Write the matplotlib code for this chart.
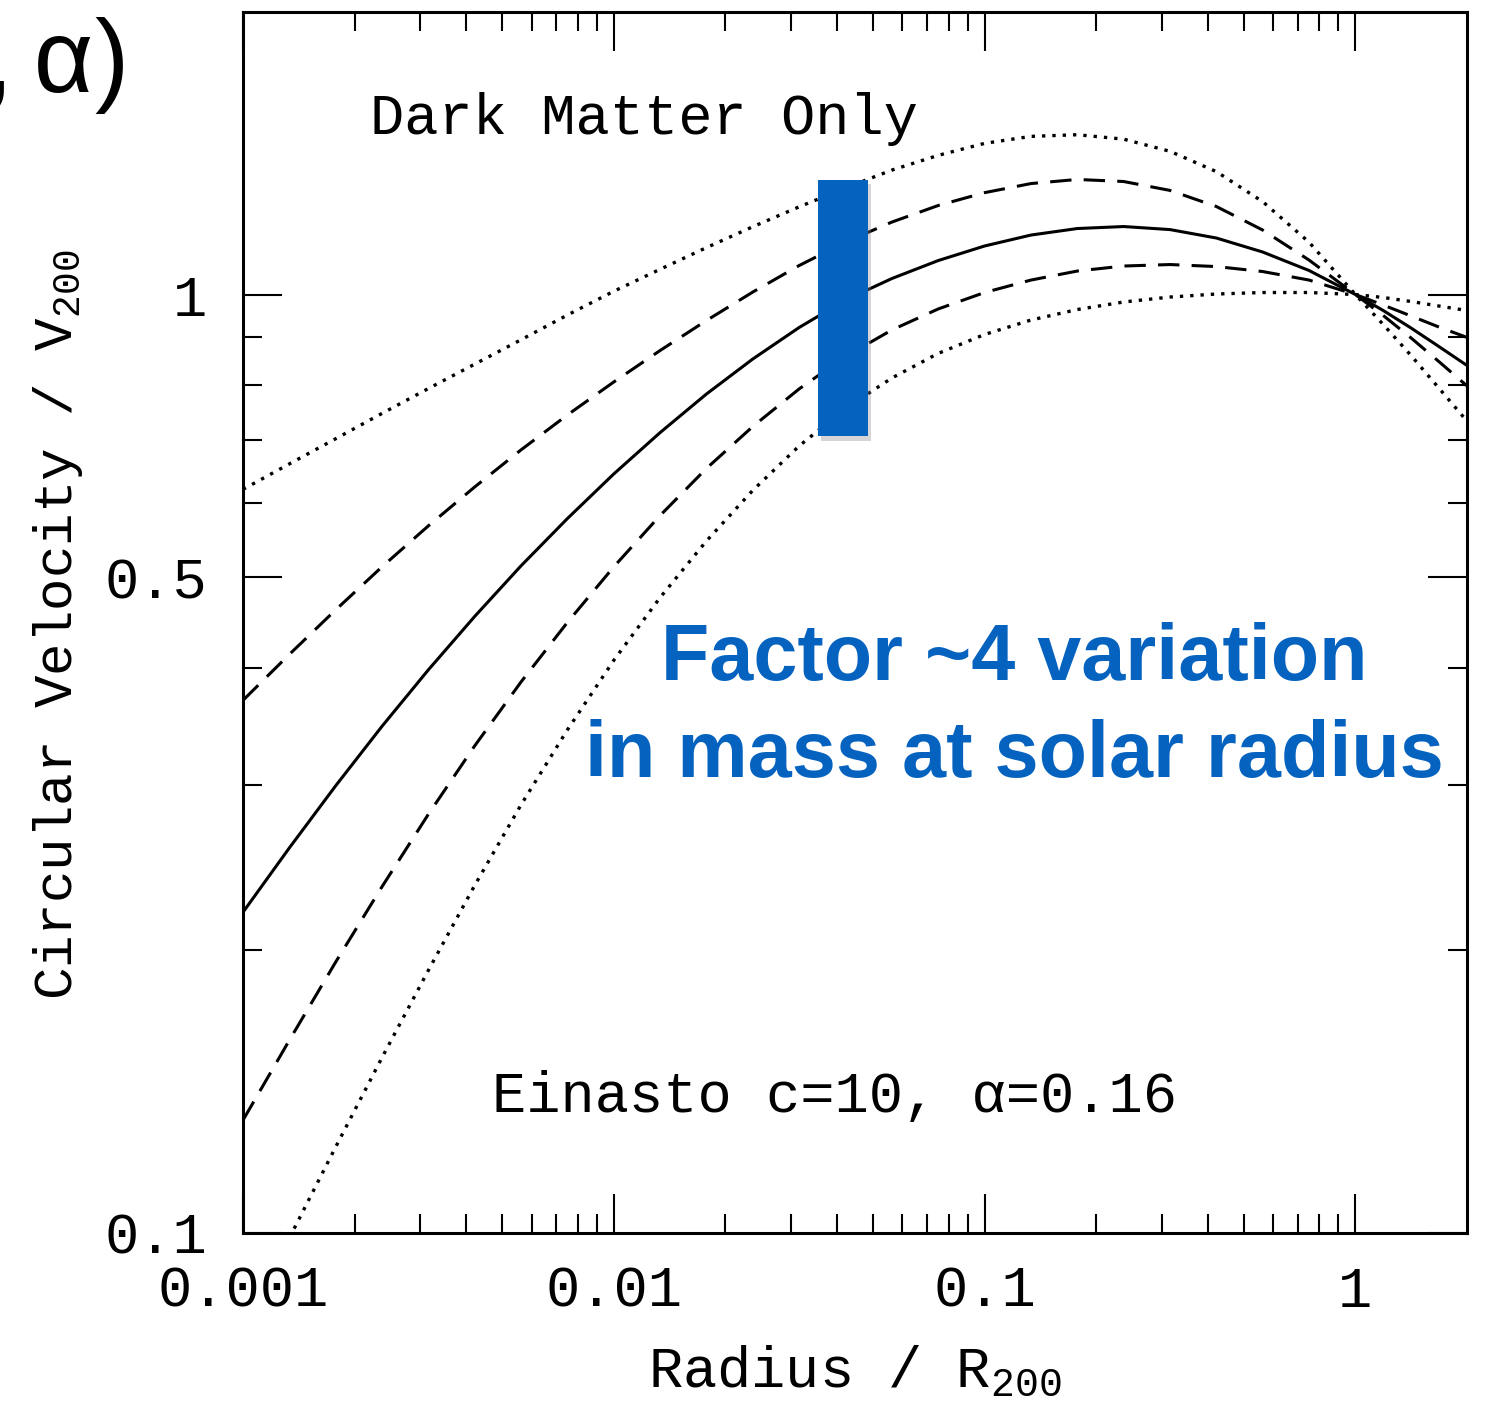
import matplotlib
matplotlib.use("Agg")
import matplotlib.pyplot as plt
import matplotlib.patheffects as pe
from matplotlib.patches import Rectangle
from matplotlib.ticker import FixedLocator, FixedFormatter, NullFormatter

# ---------------- data ----------------
radius = [0.001, 0.001334, 0.001778, 0.002371, 0.003162, 0.004217, 0.005623, 0.007499,
          0.01, 0.01334, 0.01778, 0.02371, 0.03162, 0.04217, 0.05623, 0.07499,
          0.1, 0.1334, 0.1778, 0.2371, 0.3162, 0.4217, 0.5623, 0.7499,
          1.0, 1.189, 1.413, 1.679, 2.0]

v_dot_hi = [0.620, 0.660, 0.702, 0.747, 0.794, 0.843, 0.895, 0.951,
            1.008, 1.064, 1.122, 1.181, 1.240, 1.299, 1.357, 1.407,
            1.449, 1.474, 1.480, 1.464, 1.421, 1.352, 1.256, 1.137,
            1.000, 0.929, 0.861, 0.795, 0.733]
v_dash_hi = [0.3695, 0.4136, 0.4613, 0.5127, 0.5669, 0.6237, 0.6831, 0.7442,
             0.8069, 0.8718, 0.9382, 1.0061, 1.0737, 1.1374, 1.1945, 1.2441,
             1.2839, 1.3129, 1.3262, 1.3195, 1.2910, 1.2410, 1.1714, 1.0882,
             1.000, 0.9498, 0.8989, 0.8484, 0.7991]
v_solid = [0.2197, 0.2573, 0.2996, 0.3467, 0.3982, 0.4540, 0.5140, 0.5772,
           0.6439, 0.7128, 0.7834, 0.8537, 0.9223, 0.9866, 1.0400, 1.0869,
           1.1264, 1.1571, 1.1757, 1.1815, 1.1727, 1.1487, 1.1099, 1.0607,
           1.000, 0.9615, 0.9211, 0.8803, 0.8402]
v_dash_lo = [0.1319, 0.1605, 0.1944, 0.2339, 0.2794, 0.3305, 0.3866, 0.4474,
             0.5127, 0.5816, 0.6527, 0.7234, 0.7933, 0.8590, 0.9167, 0.9652,
             1.0049, 1.0361, 1.0593, 1.0724, 1.0763, 1.0710, 1.0580, 1.0361,
             1.000, 0.9745, 0.9487, 0.9234, 0.9001]
v_dot_lo = [0.0788, 0.0988, 0.1235, 0.1538, 0.1905, 0.2347, 0.2860, 0.3437,
            0.4076, 0.4756, 0.5463, 0.6185, 0.6897, 0.7562, 0.8148, 0.8655,
            0.9066, 0.9393, 0.9638, 0.9818, 0.9938, 1.0012, 1.0049, 1.0049,
            1.000, 0.9927, 0.9830, 0.9722, 0.9615]

# highlighted band at the solar radius
band_r = [0.0356, 0.0485]
band_v = [0.706, 1.326]

x_major = [0.001, 0.01, 0.1, 1]
x_major_labels = ["0.001", "0.01", "0.1", "1"]
x_minor = [k * 10.0 ** e for e in (-3, -2, -1, 0) for k in range(2, 10) if k * 10.0 ** e < 2]
y_major = [0.1, 0.5, 1]
y_major_labels = ["0.1", "0.5", "1"]
y_minor = [0.2, 0.3, 0.4, 0.6, 0.7, 0.8, 0.9]

# ---------------- figure ----------------
W, H = 1485, 1405
fig = plt.figure(figsize=(W / 100, H / 100), dpi=100)
fig.patch.set_facecolor("white")


def fx(px):
    return px / W


def fy(py):
    return 1 - py / H


ax = fig.add_axes([fx(243), fy(1233), (1467 - 243) / W, (1233 - 12) / H])
ax.set_xscale("log")
ax.set_yscale("log")
ax.set_xlim(0.001, 2.0)
ax.set_ylim(0.1, 2.0)

mono = ["Liberation Mono", "DejaVu Sans Mono"]
sans = ["Liberation Sans", "DejaVu Sans"]
blue = "#0563BF"

dotted = (0, (1, 2.1))
dashed = (0, (7, 4))
ax.plot(radius, v_dot_hi, color="black", lw=2.4, linestyle=dotted, dash_capstyle="butt")
ax.plot(radius, v_dash_hi, color="black", lw=2.2, linestyle=dashed)
ax.plot(radius, v_solid, color="black", lw=2.2, linestyle="-")
ax.plot(radius, v_dash_lo, color="black", lw=2.2, linestyle=dashed)
ax.plot(radius, v_dot_lo, color="black", lw=2.4, linestyle=dotted, dash_capstyle="butt")

rect = Rectangle((band_r[0], band_v[0]), band_r[1] - band_r[0], band_v[1] - band_v[0],
                 facecolor=blue, edgecolor="none", zorder=5)
rect.set_path_effects([pe.SimplePatchShadow(offset=(2, -3), shadow_rgbFace="#888888", alpha=0.35),
                       pe.Normal()])
ax.add_patch(rect)

# ticks
ax.xaxis.set_major_locator(FixedLocator(x_major))
ax.xaxis.set_major_formatter(FixedFormatter(x_major_labels))
ax.xaxis.set_minor_locator(FixedLocator(x_minor))
ax.xaxis.set_minor_formatter(NullFormatter())
ax.yaxis.set_major_locator(FixedLocator(y_major))
ax.yaxis.set_major_formatter(FixedFormatter(y_major_labels))
ax.yaxis.set_minor_locator(FixedLocator(y_minor))
ax.yaxis.set_minor_formatter(NullFormatter())

ax.tick_params(which="both", direction="in", top=True, right=True, color="black")
ax.tick_params(which="major", length=28, width=1.5)
ax.tick_params(which="minor", length=13.5, width=1.5)
ax.tick_params(axis="x", which="major", pad=23, labelsize=41)
ax.tick_params(axis="y", which="major", pad=26, labelsize=41)
for lab in ax.get_xticklabels() + ax.get_yticklabels():
    lab.set_family(mono)

for s in ax.spines.values():
    s.set_linewidth(2.2)
    s.set_zorder(10)

# texts
fig.text(fx(370), fy(134), "Dark Matter Only", family=mono, fontsize=41,
         ha="left", va="baseline")
fig.text(fx(492), fy(1112), "Einasto c=10, α=0.16", family=mono, fontsize=41,
         ha="left", va="baseline")
fig.text(fx(1014), fy(680), "Factor ~4 variation", family="Liberation Sans",
         fontweight="bold", fontsize=57, color=blue, ha="center", va="baseline")
fig.text(fx(1014), fy(777), "in mass at solar radius", family="Liberation Sans",
         fontweight="bold", fontsize=57, color=blue, ha="center", va="baseline")

fig.text(fx(855), fy(1387), r"Radius / R$_{\mathregular{200}}$", family=mono,
         fontsize=41, ha="center", va="baseline")
fig.text(fx(72), fy(625), r"Circular Velocity / V$_{\mathregular{200}}$", family=mono,
         fontsize=39, ha="center", va="baseline", rotation=90, rotation_mode="anchor")

# cropped title fragment at top-left
fig.text(fx(93), fy(92), "(c,\u2009α", family=sans, fontsize=74,
         ha="right", va="baseline")
fig.text(fx(94), fy(92), ")", family=sans, fontsize=74,
         ha="left", va="baseline")

fig.savefig("out.png", dpi=100, facecolor="white")
